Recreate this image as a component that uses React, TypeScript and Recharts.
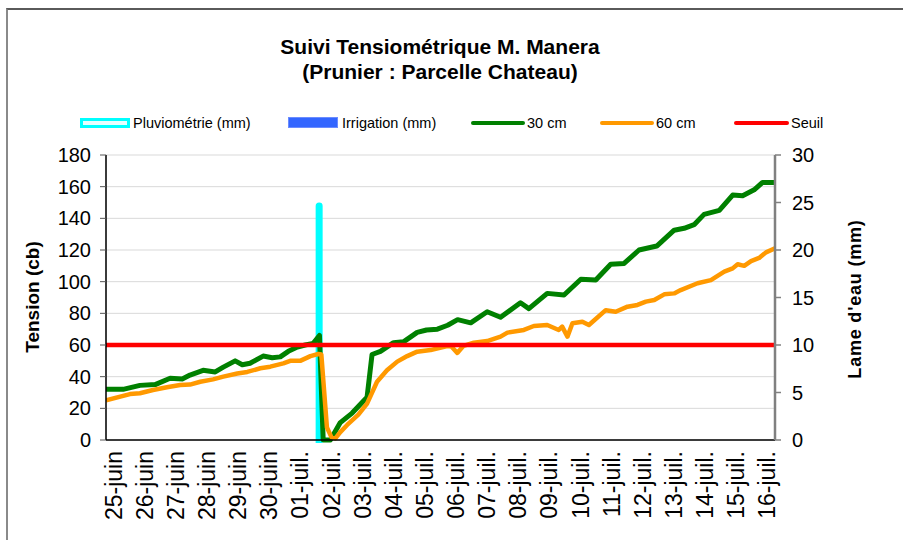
import { ComposedChart, Line, Bar, XAxis, YAxis, CartesianGrid } from 'recharts';

// days counted from 25-juin 00:00
const dayLabels = [
  '25-juin', '26-juin', '27-juin', '28-juin', '29-juin', '30-juin',
  '01-juil.', '02-juil.', '03-juil.', '04-juil.', '05-juil.', '06-juil.', '07-juil.',
  '08-juil.', '09-juil.', '10-juil.', '11-juil.', '12-juil.', '13-juil.', '14-juil.',
  '15-juil.', '16-juil.',
];

// [day, cb]
const tension30: [number, number][] = [
  [0, 32], [0.55, 32], [1.09, 34.5], [1.58, 35], [2.06, 39], [2.45, 38.5], [2.7, 41],
  [3.12, 44], [3.51, 43], [3.77, 46], [4.15, 50], [4.38, 47.5], [4.63, 48.5], [5.05, 53],
  [5.34, 52], [5.6, 52.5], [5.86, 56], [6.15, 58.7], [6.4, 60], [6.66, 61], [6.86, 66],
  [6.98, 0], [7.21, 0], [7.53, 11], [7.91, 17], [8.39, 27], [8.55, 54], [8.82, 56],
  [9.24, 61.5], [9.56, 62], [10.0, 68], [10.3, 69.5], [10.65, 70], [10.98, 72.5],
  [11.3, 76], [11.72, 74], [12.25, 81], [12.68, 77.5], [13.32, 86.7], [13.59, 83],
  [14.18, 92.6], [14.72, 91.6], [15.26, 101.5], [15.74, 101], [16.22, 111], [16.65, 111.5],
  [17.13, 120], [17.7, 122.5], [18.26, 132.5], [18.58, 133.7], [18.9, 136], [19.22, 142.5],
  [19.71, 145], [20.14, 154.7], [20.46, 154.3], [20.83, 158], [21.1, 162.7], [21.5, 162.7],
];

const tension60: [number, number][] = [
  [0, 25], [0.77, 29], [1.09, 29.5], [1.51, 31.6], [1.96, 33.3], [2.38, 34.7], [2.7, 35],
  [3.03, 36.8], [3.44, 38.3], [3.77, 40], [4.22, 42], [4.54, 43], [4.96, 45.3], [5.28, 46.3],
  [5.7, 48.4], [5.92, 50], [6.24, 50], [6.57, 53], [6.82, 54.3], [6.92, 54], [7.1, 8],
  [7.24, 2], [7.37, 1], [7.53, 5], [7.75, 9.5], [8.11, 16], [8.39, 23], [8.71, 36.8],
  [9.03, 44], [9.36, 49.5], [9.68, 53], [10.0, 55.8], [10.43, 56.8], [10.97, 59.4],
  [11.1, 59], [11.29, 55], [11.49, 59.5], [11.82, 61.5], [12.25, 62.5], [12.68, 65.3],
  [12.9, 67.8], [13.43, 69.5], [13.75, 72], [14.18, 72.6], [14.55, 69.5], [14.66, 71.6],
  [14.83, 65.3], [14.99, 73.7], [15.31, 74.7], [15.52, 72.6], [16.06, 82], [16.38, 81],
  [16.76, 84.2], [17.08, 85.3], [17.35, 87.4], [17.62, 88.4], [17.94, 92], [18.26, 92.6],
  [18.47, 94.7], [19.01, 99], [19.44, 101], [19.87, 106.3], [20.14, 108.4], [20.3, 111],
  [20.51, 110], [20.73, 113], [20.99, 115], [21.21, 118.5], [21.5, 121],
];

const seuil: [number, number][] = [[0, 60], [21.5, 60]];

// [day, mm]
const pluviometrie: [number, number][] = [[6.85, 25]];
const irrigation: [number, number][] = [[6.85, 0]];

const tensionTicks = [0, 20, 40, 60, 80, 100, 120, 140, 160, 180];
const lameTicks = [0, 5, 10, 15, 20, 25, 30];

const FONT = '"Liberation Sans", Arial, sans-serif';
const xDomain: [number, number] = [0, 21.5];
const halfDays = Array.from({ length: 44 }, (_, i) => i * 0.5);
const labelTicks = dayLabels.map((_, i) => i + 0.25);

const toRows = (pts: [number, number][]) => pts.map(([d, v]) => ({ d, v }));

const barRows = pluviometrie.map(([d, v], i) => ({ d, pluvio: v, irrig: irrigation[i][1] }));

// narrow column with a rounded top, like the Excel bar
function RainBar({ x, y, width, height, fill }: any) {
  if (!height || height <= 0) return null;
  const cx = x + width / 2;
  const r = 3.5;
  const bottom = y + height + 3;
  return (
    <path
      d={`M${cx - r},${bottom} L${cx - r},${y + r} A${r},${r} 0 0 1 ${cx + r},${y + r} L${cx + r},${bottom} Z`}
      fill={fill}
    />
  );
}

function DayTick({ x, y, payload }: any) {
  const label = dayLabels[Math.round(payload.value - 0.25)];
  const top = y + 3;
  return (
    <text
      x={x}
      y={top}
      transform={`rotate(-90, ${x}, ${top})`}
      textAnchor="end"
      dominantBaseline="central"
      fontSize={23}
      fontFamily={FONT}
      fill="#000"
    >
      {label}
    </text>
  );
}

function LegendRow() {
  const txt: React.CSSProperties = { position: 'absolute', top: 115, fontSize: 14.5, fontFamily: FONT, color: '#000', lineHeight: '16px' };
  const swatch = (left: number, style: React.CSSProperties) => (
    <div style={{ position: 'absolute', left, ...style }} />
  );
  return (
    <>
      {swatch(80, { top: 118, width: 44, height: 4, border: '3px solid #00ffff', background: '#e6ffff' })}
      <span style={{ ...txt, left: 133 }}>Pluviométrie (mm)</span>
      {swatch(288, { top: 117, width: 50, height: 11, background: '#3366ff', border: '1px solid #6b8cff', boxSizing: 'border-box' })}
      <span style={{ ...txt, left: 342 }}>Irrigation (mm)</span>
      {swatch(471, { top: 121, width: 54, height: 4, background: '#008000', borderRadius: 2 })}
      <span style={{ ...txt, left: 527 }}>30 cm</span>
      {swatch(600, { top: 121, width: 54, height: 4, background: '#ff9900', borderRadius: 2 })}
      <span style={{ ...txt, left: 656 }}>60 cm</span>
      {swatch(734, { top: 121, width: 55, height: 4, background: '#ff0000', borderRadius: 2 })}
      <span style={{ ...txt, left: 791 }}>Seuil</span>
    </>
  );
}

export default function App() {
  return (
    <div style={{ position: 'absolute', left: 0, top: 0, width: 903, height: 540, background: '#fff', overflow: 'hidden' }}>
      {/* frame of the sheet */}
      <div style={{ position: 'absolute', left: 6, top: 8, width: 910, height: 560, borderTop: '2px solid #5a5a5a', borderLeft: '2px solid #8a8a8a' }} />

      <div style={{ position: 'absolute', left: 0, width: 880, top: 34, textAlign: 'center', fontFamily: FONT, fontWeight: 'bold', fontSize: 21, lineHeight: '25px' }}>
        Suivi Tensiométrique M. Manera
        <br />
        (Prunier : Parcelle Chateau)
      </div>

      <LegendRow />

      <div style={{ position: 'absolute', left: 0, top: 0 }}>
        <ComposedChart
          width={903}
          height={540}
          data={barRows}
          margin={{ top: 155, right: 68, left: 46, bottom: 0 }}
          style={{ fontFamily: FONT }}
        >
          <CartesianGrid xAxisId={0} yAxisId="left" stroke="#d9d9d9" strokeWidth={1} />
          <XAxis
            xAxisId={0}
            dataKey="d"
            type="number"
            domain={xDomain}
            ticks={halfDays}
            interval={0}
            allowDataOverflow
            height={6}
            tick={false}
            tickSize={6}
            stroke="#000"
            axisLine={{ stroke: '#000', strokeWidth: 1.5 }}
            tickLine={{ stroke: '#555' }}
          />
          <XAxis
            xAxisId="lbl"
            dataKey="d"
            type="number"
            domain={xDomain}
            ticks={labelTicks}
            interval={0}
            allowDataOverflow
            height={94}
            axisLine={false}
            tickLine={false}
            tickSize={0}
            tick={<DayTick />}
          />
          <YAxis
            yAxisId="left"
            domain={[0, 180]}
            ticks={tensionTicks}
            interval={0}
            width={60}
            tickSize={6}
            tickMargin={9}
            axisLine={{ stroke: '#000', strokeWidth: 1.5 }}
            tickLine={{ stroke: '#555' }}
            tick={{ fill: '#000', fontSize: 20, fontFamily: FONT }}
          />
          <YAxis
            yAxisId="right"
            orientation="right"
            domain={[0, 30]}
            ticks={lameTicks}
            interval={0}
            width={60}
            tickSize={6}
            tickMargin={11}
            axisLine={{ stroke: '#808080', strokeWidth: 2.5 }}
            tickLine={{ stroke: '#808080', strokeWidth: 1.5 }}
            tick={{ fill: '#000', fontSize: 20, fontFamily: FONT }}
          />
          <Bar
            xAxisId={0}
            yAxisId="right"
            dataKey="pluvio"
            stackId="eau"
            fill="#00ffff"
            shape={<RainBar />}
            isAnimationActive={false}
          />
          <Bar
            xAxisId={0}
            yAxisId="right"
            dataKey="irrig"
            stackId="eau"
            fill="#3366ff"
            shape={<RainBar />}
            isAnimationActive={false}
          />
          <Line
            xAxisId={0}
            yAxisId="left"
            data={toRows(tension30)}
            dataKey="v"
            type="linear"
            stroke="#008000"
            strokeWidth={5}
            strokeLinejoin="round"
            dot={false}
            isAnimationActive={false}
          />
          <Line
            xAxisId={0}
            yAxisId="left"
            data={toRows(tension60)}
            dataKey="v"
            type="linear"
            stroke="#ff9900"
            strokeWidth={4.5}
            strokeLinejoin="round"
            dot={false}
            isAnimationActive={false}
          />
          <Line
            xAxisId={0}
            yAxisId="left"
            data={toRows(seuil)}
            dataKey="v"
            type="linear"
            stroke="#ff0000"
            strokeWidth={4.5}
            dot={false}
            isAnimationActive={false}
          />
        </ComposedChart>
      </div>

      <div style={{ position: 'absolute', left: 33, top: 297, transform: 'translate(-50%, -50%) rotate(-90deg)', whiteSpace: 'nowrap', fontFamily: FONT, fontWeight: 'bold', fontSize: 19 }}>
        Tension (cb)
      </div>
      <div style={{ position: 'absolute', left: 855, top: 299, transform: 'translate(-50%, -50%) rotate(-90deg)', whiteSpace: 'nowrap', fontFamily: FONT, fontWeight: 'bold', fontSize: 18, letterSpacing: 0.8 }}>
        Lame d'eau (mm)
      </div>
    </div>
  );
}
